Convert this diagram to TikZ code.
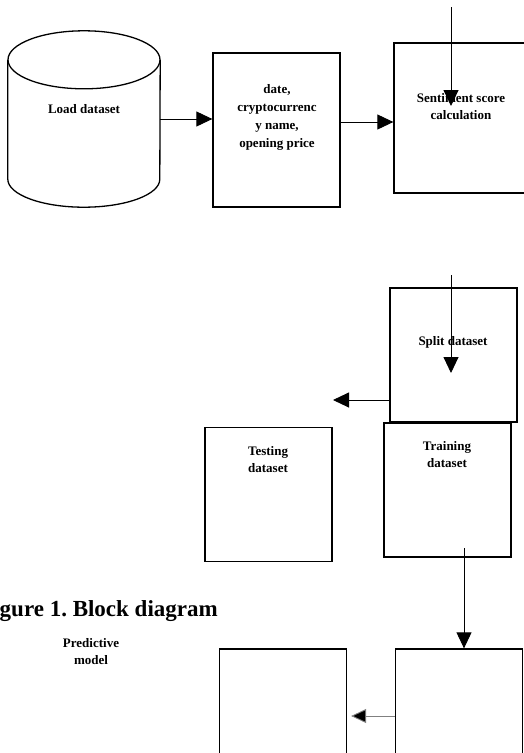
\documentclass[tikz,border=0pt]{standalone}
\usepackage{fontspec}
\setmainfont{Liberation Serif}
\usetikzlibrary{shapes.geometric,arrows.meta,positioning}
\tikzset{
  blk/.style={draw, line width=1.3pt, minimum width=127pt, minimum height=134pt, inner sep=0pt},
  lbl/.style={font=\fontsize{13}{17}\selectfont\bfseries, align=center, inner sep=0pt},
  arr/.style={-{Triangle[length=16pt,width=15pt]}, line width=0.9pt},
}
\begin{document}
\begin{tikzpicture}[x=1pt,y=-1pt]
\useasboundingbox (0,0) rectangle (524,753);
\clip (0,0) rectangle (524,753);
% top row
\node[minimum width=152pt, minimum height=176pt, inner sep=0pt] (load) at (84,119) {};
\draw[line width=1.3pt] ([yshift=-29pt]load.north) ellipse [x radius=76pt, y radius=29pt];
\draw[line width=1.3pt] ([yshift=-29pt]load.north west) -- ([yshift=28pt]load.south west)
  arc[start angle=180, end angle=360, x radius=76pt, y radius=28pt] -- ([yshift=-29pt]load.north east);
\node[lbl] (loadtxt) at (84,109) {Load dataset};
\node[blk, minimum height=154pt] (attr) at (276.5,130) {};
\node[lbl, font=\fontsize{13}{18}\selectfont\bfseries] (attrtxt) at (277,117.5) {date,\\cryptocurrenc\\y name,\\opening price};
\node[blk, minimum width=136pt, minimum height=150pt] (senti) at (462,118) {};
\node[lbl] (sentitxt) at (461,106.5) {Sentiment score\\calculation};
\draw[arr] (load.east) -- (attr.west |- load.east);
\draw[arr] ([yshift=8pt]attr.east) -- ([yshift=-4pt]senti.west);
\coordinate (feedin) at (451,7);
\coordinate (feedtip) at (451,106);
\draw[arr] (feedin) -- (feedtip);
% splitting
\node[blk] (split) at (453.5,355) {};
\node[lbl] (splittxt) at (453,342) {Split dataset};
\coordinate (splitin) at (451,275);
\coordinate (splittip) at (451,373);
\draw[arr] (splitin) -- (splittip);
\coordinate (testtip) at (333,400);
\draw[arr] (split.west |- testtip) -- (testtip);
\node[blk] (test) at (268.5,494.5) {};
\node[lbl] (testtxt) at (268,460) {Testing\\dataset};
\node[blk] (train) at (447.5,490) {};
\node[lbl] (traintxt) at (447,455) {Training\\dataset};
% bottom row
\node[lbl, font=\fontsize{23}{26}\selectfont\bfseries, anchor=base east] (caption) at (218,616) {Figure 1.\ Block diagram};
\node[lbl] (predtxt) at (91,652) {Predictive\\model};
\node[blk] (model) at (283,716) {};
\node[blk] (res) at (459,716) {};
\coordinate (trainout) at (464,548);
\draw[arr] (trainout) -- (trainout |- res.north);
\draw[arr, draw=gray, -{Triangle[length=15pt,width=14pt,fill=black]}, shorten >=4pt] (res.west) -- (model.east);
\end{tikzpicture}
\end{document}
